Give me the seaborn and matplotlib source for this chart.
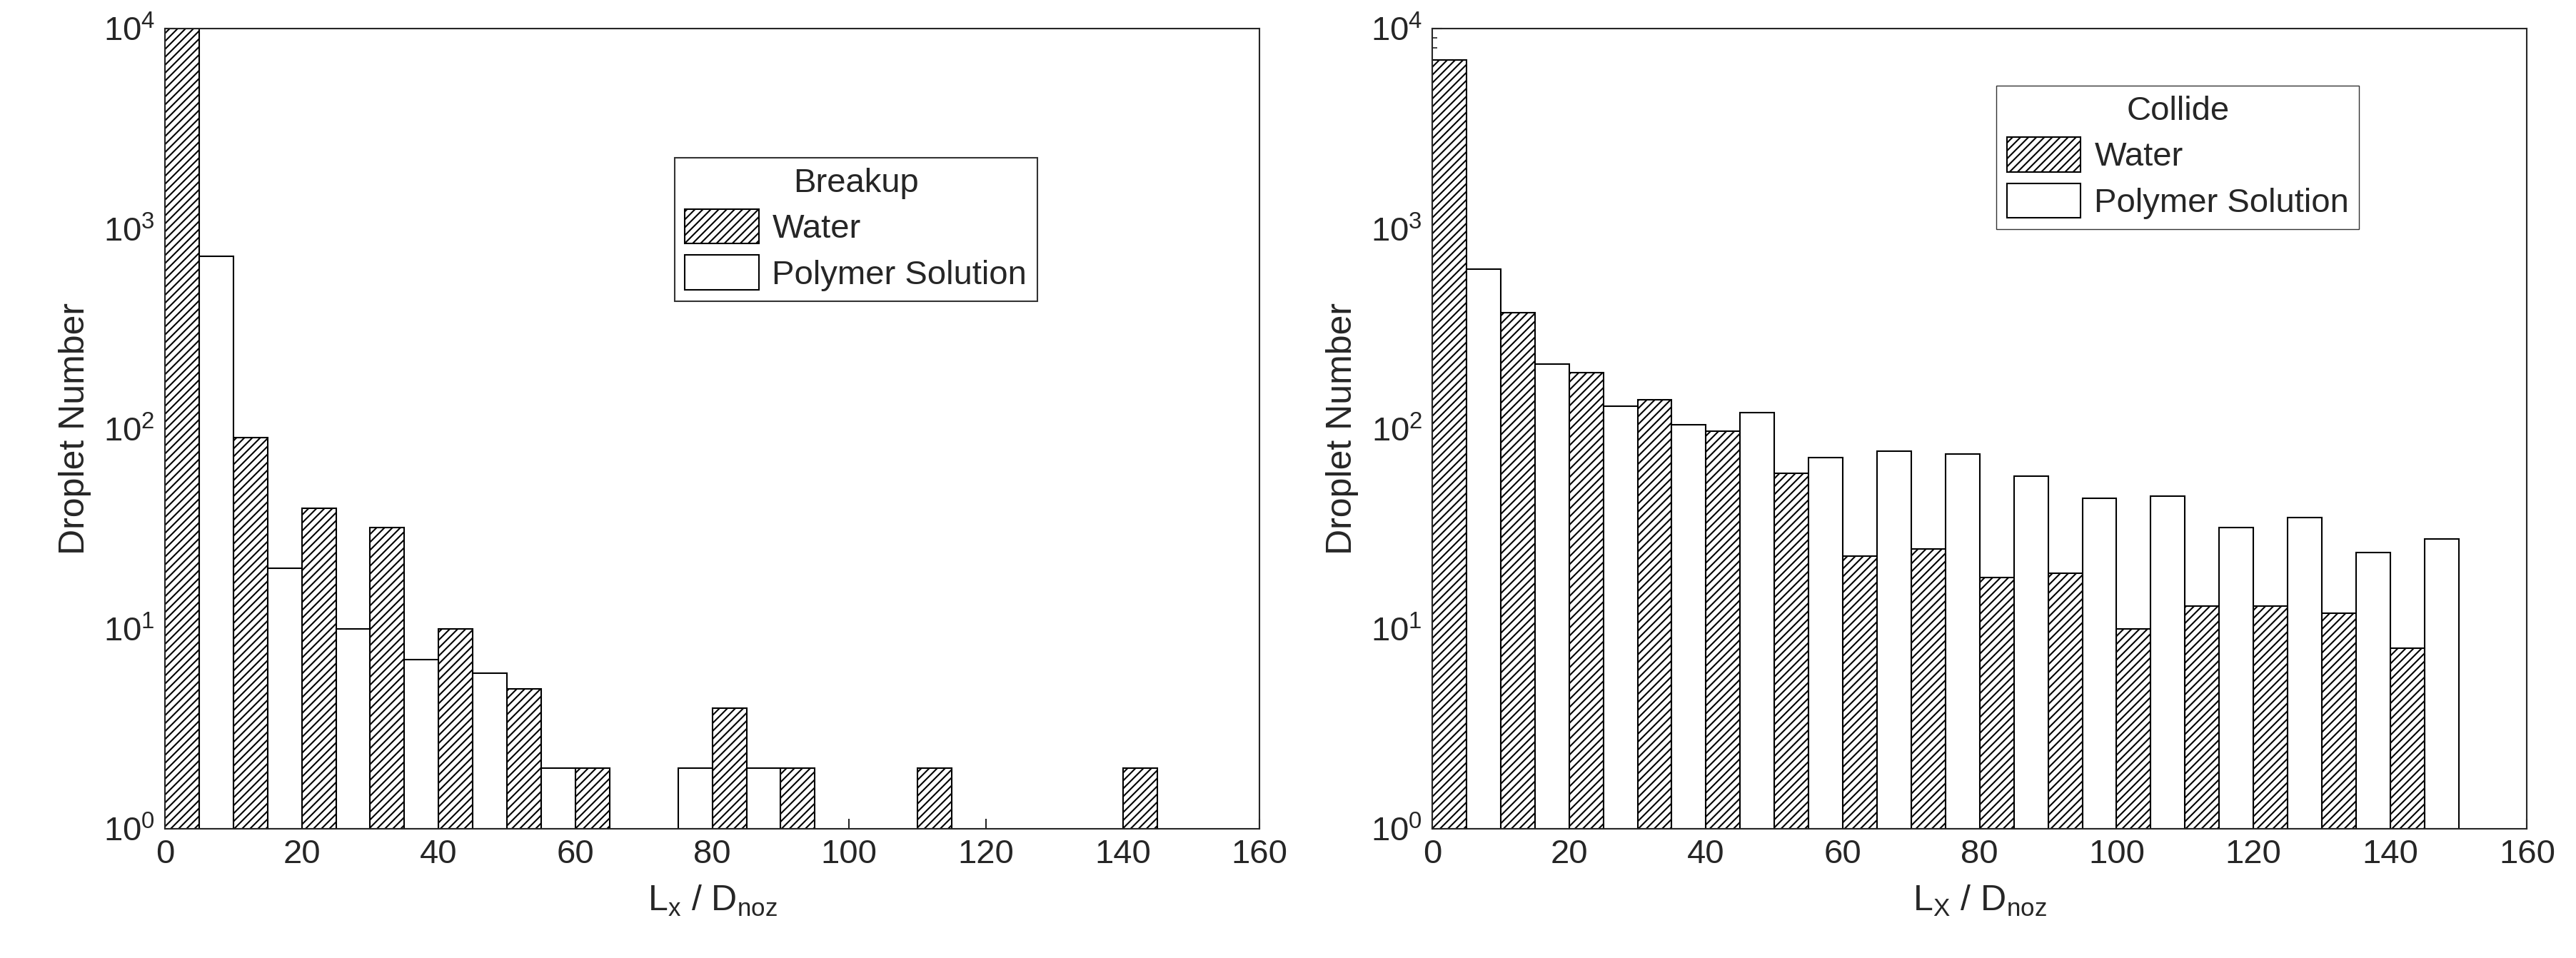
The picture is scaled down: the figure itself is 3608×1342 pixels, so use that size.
import matplotlib
matplotlib.use("Agg")
import matplotlib.pyplot as plt
import seaborn as sns
import numpy as np

sns.set_style("ticks")
plt.rcParams['font.family'] = ['Arial', 'Liberation Sans', 'DejaVu Sans']
plt.rcParams['hatch.linewidth'] = 1.5

# Left: Breakup
b_water_x = [0, 10, 20, 30, 40, 50, 60, 80, 90, 110, 140]
b_water_y = [10000, 90, 40, 32, 10, 5, 2, 4, 2, 2, 2]
b_poly_x = [5, 15, 25, 35, 45, 55, 75, 85]
b_poly_y = [730, 20, 10, 7, 6, 2, 2, 2]
# Right: Collide
c_water_x = [0, 10, 20, 30, 40, 50, 60, 70, 80, 90, 100, 110, 120, 130, 140]
c_water_y = [7000, 380, 190, 140, 97, 60, 23, 25, 18, 19, 10, 13, 13, 12, 8]
c_poly_x = [5, 15, 25, 35, 45, 55, 65, 75, 85, 95, 105, 115, 125, 135, 145]
c_poly_y = [630, 210, 130, 105, 120, 72, 77, 75, 58, 45, 46, 32, 36, 24, 28]

fig = plt.figure(figsize=(36.08, 13.42), dpi=100)
ax1 = fig.add_axes([0.064, 0.135, 0.425, 0.835])
ax2 = fig.add_axes([0.556, 0.135, 0.425, 0.835])

def draw(ax, wx, wy, px, py, xlab):
    ax.bar(wx, np.array(wy) - 1, width=5, align='edge', bottom=1, color='white', edgecolor='black',
           hatch='///', linewidth=1.5, label='Water')
    ax.bar(px, np.array(py) - 1, width=5, align='edge', bottom=1, color='white', edgecolor='black',
           linewidth=1.5, label='Polymer Solution')
    ax.set_yscale('log')
    ax.set_ylim(1, 1e4)
    ax.set_xlim(0, 160)
    ax.set_xticks(range(0, 161, 20))
    ax.tick_params(direction='in', length=10, width=1.5, labelsize=34, pad=10, top=False, right=False)
    ax.tick_params(which='minor', direction='in', length=5, width=1.2)
    for s in ax.spines.values():
        s.set_linewidth(1.5)
    ax.set_ylabel('Droplet Number', fontsize=36, labelpad=12)
    ax.set_xlabel(xlab, fontsize=36, labelpad=14)
    return ax

draw(ax1, b_water_x, b_water_y, b_poly_x, b_poly_y, r'L$_\mathregular{x}$ / D$_\mathregular{noz}$')
draw(ax2, c_water_x, c_water_y, c_poly_x, c_poly_y, r'L$_\mathregular{X}$ / D$_\mathregular{noz}$')

l1 = ax1.legend(title='Breakup', fontsize=34, title_fontsize=34, loc='upper left',
                bbox_to_anchor=(0.45, 0.86), fancybox=False, edgecolor='black',
                handlelength=2.2, handleheight=1.2, borderpad=0.3, labelspacing=0.3, handletextpad=0.4)
l1.get_frame().set_linewidth(1.5)
l2 = ax2.legend(title='Collide', fontsize=34, title_fontsize=34, loc='upper left',
                bbox_to_anchor=(0.5, 0.95), fancybox=False, edgecolor='black',
                handlelength=2.2, handleheight=1.2, borderpad=0.3, labelspacing=0.3, handletextpad=0.4)
l2.get_frame().set_linewidth(1.0)

fig.savefig('out.png', dpi=100)
